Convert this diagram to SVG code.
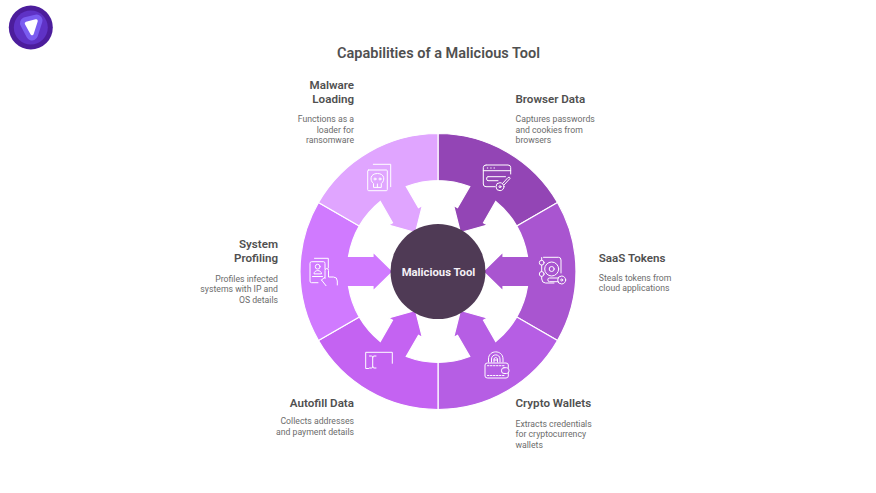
<svg xmlns="http://www.w3.org/2000/svg" width="876" height="493" viewBox="0 0 876 493">
<style>
text{font-family:Roboto,"Liberation Sans",sans-serif}
.t{font-size:14.5px;font-weight:600;fill:#505050}
.h{font-size:11.6px;font-weight:600;fill:#505050}
.d{font-size:8.7px;fill:#6c6c6c}
.e{text-anchor:end}
.i{fill:none;stroke:#fff;stroke-width:1;stroke-linecap:round;stroke-linejoin:round}
.seg{stroke:#fff;stroke-width:1.2}
</style>
<defs>
<path id="seg" d="M45 0L65 -19.5L65 -15L89.5 -15A91 91 0 0 0 78.8 -45.5L119.5 -69A138 138 0 0 1 119.5 69L78.8 45.5A91 91 0 0 0 89.5 15L65 15L65 19.5Z"/>
</defs>
<rect width="876" height="493" fill="#fff"/>
<g id="logo">
<circle cx="30.800" cy="27.500" r="22" fill="#4c1d9c"/>
<circle cx="30.800" cy="27.500" r="17" fill="#5f32c6"/>
<path d="M26 23L36.500 20.500L32 34.500Z" fill="#7a5cf0" stroke="#7a5cf0" stroke-width="12" stroke-linejoin="round"/>
<path d="M26.500 23.500L36 21L32 33.500Z" fill="#fff" stroke="#fff" stroke-width="3.500" stroke-linejoin="round"/>
</g>
<text class="t" x="438.500" y="58" text-anchor="middle">Capabilities of a Malicious Tool</text>
<g id="connectors"></g>
<g id="browser-data">
<use href="#seg" class="seg" fill="#9345b5" transform="translate(438 271.500) rotate(-60)"/>
<path class="i" d="M486 165H508Q510.700 165 510.700 167.500V174M495 186.700H486Q483.300 186.700 483.300 184V167.500Q483.300 165 486 165M483.300 170.700H510.700M488 176.700H505.500M505.500 176.700M498 180.700H488Q486.700 180.700 486.700 179V178Q486.700 176.700 488 176.700M502.500 183.500L508 177.500Q510 176.500 510 178.500L504 185"/>
<path class="i" d="M487.300 168H487.800M490.700 168H491.200M494 168H494.500"/>
<circle class="i" cx="500" cy="186.700" r="4"/>
<circle class="i" cx="500" cy="186.700" r="1"/>
<text class="h" x="515.500" y="103">Browser Data</text>
<text class="d" x="515.500" y="122">Captures passwords</text>
<text class="d" x="515.500" y="132.500">and cookies from</text>
<text class="d" x="515.500" y="143">browsers</text>
</g>
<g id="saas-tokens">
<use href="#seg" class="seg" fill="#a955d0" transform="translate(438 271.500)"/>
<path class="i" d="M543.500 257.300H558.500Q561 257.300 561 260V273M554 283H545.500Q542 283 541.700 279V276.500M541.700 265.200V271.500M541.700 260.200V257.500"/>
<circle class="i" cx="551.700" cy="269" r="7"/>
<circle class="i" cx="551.700" cy="269" r="2.500"/>
<circle class="i" cx="541.700" cy="262.700" r="2.400"/>
<circle class="i" cx="541.700" cy="274" r="2.400"/>
<circle class="i" cx="561.700" cy="280" r="4"/>
<circle class="i" cx="561.700" cy="280" r="1"/>
<path class="i" d="M557.700 278H549.500Q547.800 278 547.800 279.800Q547.800 281.700 549.500 281.700H557.700"/>
<text class="h" x="598.800" y="262">SaaS Tokens</text>
<text class="d" x="598.800" y="281">Steals tokens from</text>
<text class="d" x="598.800" y="291">cloud applications</text>
</g>
<g id="crypto-wallets">
<use href="#seg" class="seg" fill="#b65ee4" transform="translate(438 271.500) rotate(60)"/>
<path class="i" d="M488.500 362V359C488.500 349.500 503 349.500 503 359V362M491.500 362V359C491.500 353.500 500 353.500 500 359V362"/>
<path class="i" d="M494 362V358.500Q495.700 356.500 497.500 358.500V362M494 360H497.500"/>
<path class="i" d="M508.300 367.500V365Q508.300 363 506 363H487.500Q485 363 485 365V376Q485 378 487.500 378H506Q508.300 378 508.300 376V373.500"/>
<rect class="i" x="501.500" y="367.700" width="7.500" height="5.800" rx="2.500"/>
<path class="i" stroke-dasharray="1.500 1.500" d="M487.500 375.500H505M487.500 365.700H505"/>
<text class="h" x="515.500" y="407">Crypto Wallets</text>
<text class="d" x="515.500" y="427">Extracts credentials</text>
<text class="d" x="515.500" y="437">for cryptocurrency</text>
<text class="d" x="515.500" y="448">wallets</text>
</g>
<g id="autofill-data">
<use href="#seg" class="seg" fill="#c463f2" transform="translate(438 271.500) rotate(120)"/>
<path class="i" d="M368.500 368.500H365.700V352.300H392.300V363.300"/>
<path class="i" d="M369.500 356H371.500Q372.700 356 372.700 357.500V366.500Q372.700 368 371.500 368H369.500M376 356H374Q372.700 356 372.700 357.500M376 368H374Q372.700 368 372.700 366.500"/>
<text class="h e" x="354" y="407">Autofill Data</text>
<text class="d e" x="354" y="424">Collects addresses</text>
<text class="d e" x="354" y="435">and payment details</text>
</g>
<g id="system-profiling">
<use href="#seg" class="seg" fill="#d07aff" transform="translate(438 271.500) rotate(180)"/>
<path class="i" d="M314.500 258.300H328.300V268M318 282.700H311.500Q310 282.700 310 281V263.500Q310 261.700 311.500 261.700H323.500Q325 261.700 325 263.500V269"/>
<circle class="i" cx="317.700" cy="266.700" r="2.400"/>
<path class="i" d="M314 273.500C314 269.500 321.500 269.500 321.500 273.500ZM312.500 276.500H322.500"/>
<path class="i" d="M325 278.500V270.500Q325 268.500 326.800 268.500Q328.500 268.500 328.500 270.500V277H333.500Q337.300 277 337.300 281V285M321.500 280L326 285.700M324.500 277.500L321.500 280"/>
<text class="h e" x="278" y="248">System</text>
<text class="h e" x="278" y="262">Profiling</text>
<text class="d e" x="278" y="282">Profiles infected</text>
<text class="d e" x="278" y="292">systems with IP and</text>
<text class="d e" x="278" y="303">OS details</text>
</g>
<g id="malware-loading">
<use href="#seg" class="seg" fill="#e0a5ff" transform="translate(438 271.500) rotate(240)"/>
<rect class="i" x="367.700" y="170" width="19.600" height="20.700" rx="1"/>
<path class="i" d="M373.300 164.300H390.700V186.700"/>
<path class="i" d="M373.500 187V183.500C369.500 180.500 370 173.500 377.400 173.500C384.800 173.500 385.300 180.500 381.300 183.500V187Z"/>
<path class="i" d="M377.400 184V187"/>
<circle class="i" cx="375" cy="179" r="1"/>
<circle class="i" cx="380" cy="179" r="1"/>
<text class="h e" x="354" y="89">Malware</text>
<text class="h e" x="354" y="103">Loading</text>
<text class="d e" x="354" y="122">Functions as a</text>
<text class="d e" x="354" y="132.500">loader for</text>
<text class="d e" x="354" y="143">ransomware</text>
</g>
<g id="malicious-tool">
<circle cx="438" cy="271.500" r="47.500" fill="#4f3a55"/>
<text x="438.500" y="276" text-anchor="middle" font-size="11.300" font-weight="700" fill="#f4f0f6">Malicious Tool</text>
</g>
</svg>
